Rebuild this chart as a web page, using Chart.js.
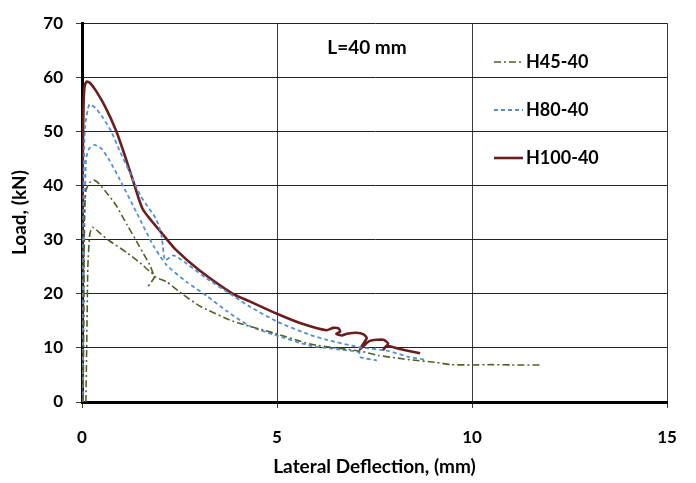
<!DOCTYPE html>
<html>
<head>
<meta charset="utf-8">
<script src="https://cdn.jsdelivr.net/npm/chart.js@4.4.1/dist/chart.umd.min.js"></script>
<style>
  body { margin: 0; background: #fff; }
  #wrap { width: 696px; height: 483px; }
</style>
</head>
<body>
<div id="wrap"><canvas id="myChart" width="696" height="483"></canvas></div>
<script>
// two test curves per specimen
const h45aX = [0.03, 0.05, 0.06, 0.1, 0.19, 0.3, 0.44, 0.65, 0.86, 1.16, 1.46, 1.74, 1.87, 2.17, 2.6, 3.03, 3.88, 4.9, 5.85, 6.5, 7.13, 7.6, 8.1, 8.41, 9.1, 9.45, 10.0, 10.5, 11.0, 11.75];
const h45aY = [0, 20, 34, 39, 40.5, 41, 40.3, 38.5, 36.5, 32.7, 28.9, 25.3, 23.2, 22.2, 19.8, 17.7, 14.9, 12.8, 10.7, 10.0, 9.4, 8.6, 8.1, 7.8, 7.3, 6.9, 6.85, 6.9, 6.85, 6.85];
const h45bX = [0.1, 0.13, 0.15, 0.2, 0.27, 0.49, 0.7, 1.15, 1.49, 1.74, 1.87, 1.66];
const h45bY = [0, 15, 25, 31, 32.3, 31, 29.8, 27.6, 25.7, 24.1, 23.3, 21.0];

const h80aX = [0, 0.02, 0.04, 0.08, 0.19, 0.35, 0.53, 0.75, 0.96, 1.2, 1.51, 1.9, 2.04, 2.13, 2.34, 2.68, 3.2, 3.88, 4.31, 4.99, 5.85, 6.27, 7.13, 7.81, 8.4, 8.8];
const h80aY = [0, 20, 40, 51, 55, 54.3, 52.6, 50, 46.5, 42.8, 38, 33.8, 30.7, 26.2, 27.1, 25.6, 22.8, 19.6, 17.6, 14.9, 12.4, 11.5, 10.1, 9.5, 8.3, 7.8];
const h80bX = [0.02, 0.05, 0.1, 0.18, 0.32, 0.5, 0.7, 0.97, 1.4, 1.83, 2.17, 2.68, 3.2, 3.71, 4.31, 4.9, 5.85, 6.5, 7.1, 7.13, 7.56];
const h80bY = [0, 25, 44.7, 46.8, 47.5, 46.8, 44.7, 41.1, 35, 28.9, 25.3, 22.2, 19.6, 16.8, 14.0, 12.5, 10.4, 9.8, 9.2, 8.3, 7.66];

const h100X = [0, 0.01, 0.02, 0.04, 0.07, 0.12, 0.2, 0.36, 0.6, 0.87, 1.1, 1.34, 1.56, 2.07, 2.41, 3.0, 3.87, 4.3, 5.0, 5.59, 6.27, 6.44, 6.58, 6.62, 6.52, 6.66, 6.79, 7.04, 7.22, 7.3, 7.13, 7.38, 7.73, 7.85, 7.73, 7.81, 8.15, 8.67];
const h100Y = [0, 20, 45, 55, 58.5, 59.2, 59, 57.5, 54.5, 50.2, 45.5, 40.2, 35.6, 31.0, 28.1, 24.4, 20, 18.6, 16.3, 14.6, 13.25, 13.7, 13.6, 13.0, 12.6, 12.3, 12.6, 12.8, 12.5, 11.8, 9.8, 11.3, 11.5, 10.8, 9.7, 10.4, 9.8, 9.0];

const seriesNames = ["H45-40", "H80-40", "H100-40"];
const noteText = "L=40 mm";
const xTitle = "Lateral Deflection, (mm)";
const yTitle = "Load, (kN)";

const fontName = "Lato, 'Open Sans', sans-serif";

function pts(xs, ys){
    let stock = [];
    let i = -1;
    while(++i < xs.length){
        stock.push({x: xs[i], y: ys[i]})
    }
    return stock;
}

const green = {color: '#4F6228', width: 1.6, dash: [7, 3, 2, 3]};
const blue = {color: '#558ED5', width: 1.8, dash: [4, 3]};
const red = {color: '#6B1E1E', width: 2.6, dash: []};

function lineSet(label, xs, ys, st, inLegend){
    return {
        label: label,
        data: pts(xs, ys),
        showLine: true,
        borderColor: st.color,
        borderWidth: st.width,
        borderDash: st.dash,
        pointRadius: 0,
        tension: 0.2,
        fill: false,
        inLegend: inLegend
    }
}

// legend drawn inside the plot, like the excel one
const innerLegend = {
    id: 'innerLegend',
    afterDatasetsDraw(chart){
        const ctx = chart.ctx;
        const rows = [62, 110, 158];
        let k = 0;
        ctx.save();
        chart.data.datasets.forEach(ds => {
            if(!ds.inLegend) return;
            const y = rows[k++];
            ctx.strokeStyle = ds.borderColor;
            ctx.lineWidth = ds.borderWidth;
            ctx.setLineDash(ds.borderDash);
            ctx.beginPath();
            ctx.moveTo(494, y);
            ctx.lineTo(523, y);
            ctx.stroke();
            ctx.setLineDash([]);
            ctx.fillStyle = '#000';
            ctx.font = "bold 18px " + fontName;
            ctx.textBaseline = 'middle';
            ctx.textAlign = 'left';
            ctx.fillText(ds.label, 526, y);
        });
        ctx.font = "bold 19px " + fontName;
        ctx.textAlign = 'center';
        ctx.fillText(noteText, 367, 48);
        ctx.restore();
    }
};

const ctx = document.getElementById('myChart');

new Chart(ctx, {
    type: 'scatter',
    data: {
        datasets: [
            lineSet(seriesNames[0], h45aX, h45aY, green, true),
            lineSet(seriesNames[0], h45bX, h45bY, green, false),
            lineSet(seriesNames[1], h80aX, h80aY, blue, true),
            lineSet(seriesNames[1], h80bX, h80bY, blue, false),
            lineSet(seriesNames[2], h100X, h100Y, red, true)
        ]
    },
    options: {
        responsive: false,
        animation: false,
        layout: { padding: { top: 18, right: 29, left: 0, bottom: 0 } },
        plugins: {
            legend: { display: false },
            tooltip: { enabled: false }
        },
        scales: {
            x: {
                type: 'linear',
                min: 0,
                max: 15,
                ticks: {
                    stepSize: 5,
                    padding: 19,
                    color: '#000',
                    font: { family: fontName, size: 17, weight: 'bold' }
                },
                grid: { color: '#3a3a3a', lineWidth: 1, tickLength: 6, tickColor: '#3a3a3a' },
                border: { color: '#000', width: 3 },
                title: {
                    display: true,
                    text: xTitle,
                    color: '#000',
                    padding: { top: 0, bottom: 5 },
                    font: { family: fontName, size: 19, weight: 'bold' }
                },
                afterFit(scale){ scale.height = 81; }
            },
            y: {
                min: 0,
                max: 70,
                ticks: {
                    stepSize: 10,
                    padding: 13,
                    color: '#000',
                    font: { family: fontName, size: 17, weight: 'bold' }
                },
                grid: { color: '#222', lineWidth: 1, tickLength: 6, tickColor: '#3a3a3a' },
                border: { color: '#000', width: 3 },
                title: {
                    display: true,
                    text: yTitle,
                    color: '#000',
                    padding: { top: 8, bottom: 0 },
                    font: { family: fontName, size: 19, weight: 'bold' }
                },
                afterFit(scale){ scale.width = 82; }
            }
        }
    },
    plugins: [innerLegend]
});
</script>
</body>
</html>
